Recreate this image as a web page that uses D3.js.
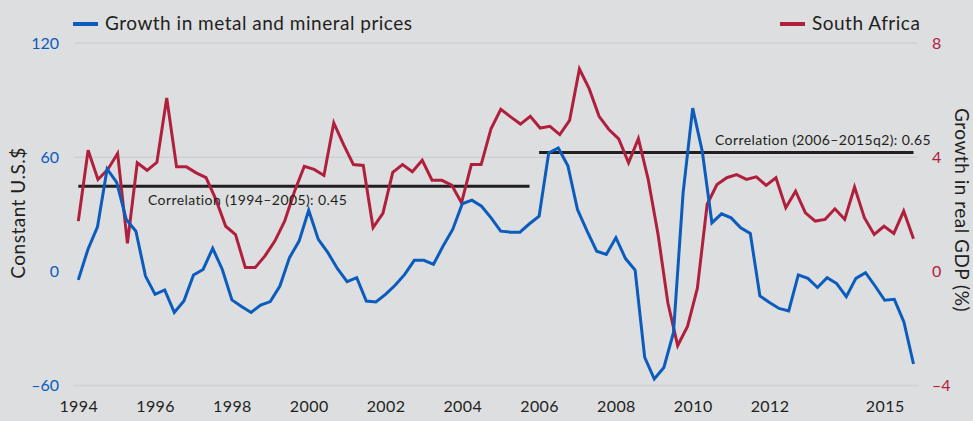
<!DOCTYPE html>
<html>
<head>
<meta charset="utf-8">
<script src="https://cdn.jsdelivr.net/npm/d3@7"></script>
<style>
  body { margin: 0; background: #dddee0; }
  svg { display: block; font-family: Lato, "Open Sans", sans-serif; }
</style>
</head>
<body>
<div id="chart"></div>
<script>
// quarterly, 1994Q1 .. 2015Q4 (constant U.S.$, % growth)
const metalPrices = [
  -4.5, 11.5, 23.4, 53.8, 46.8, 27.2, 21.1, -2.5, -12.1, -9.8,
  -21.6, -15.6, -1.9, 1.0, 12.1, 1.0, -15.0, -18.5, -21.6, -17.7,
  -15.9, -7.7, 7.2, 15.9, 32.1, 16.8, 9.8, 1.4, -5.4, -3.3,
  -15.6, -16.1, -12.1, -7.3, -1.6, 5.8, 5.8, 3.7, 13.3, 22.0,
  35.5, 37.4, 34.2, 28.1, 21.1, 20.6, 20.6, 25.0, 29.0, 62.2,
  64.8, 55.5, 32.5, 21.1, 10.6, 8.9, 17.7, 6.7, 0.7, -45.2,
  -56.6, -50.5, -32.1, 41.2, 85.8, 63.0, 25.5, 30.2, 28.1, 22.9,
  19.9, -12.9, -16.4, -19.5, -20.8, -1.9, -3.7, -8.5, -3.3, -6.4,
  -13.3, -3.7, -0.7, -7.7, -15.2, -14.7, -26.6, -48.7
];

// South Africa real GDP growth (%)
const saGdp = [
  1.76, 4.24, 3.22, 3.57, 4.13, 0.98, 3.80, 3.54, 3.82, 6.07,
  3.66, 3.66, 3.45, 3.28, 2.52, 1.58, 1.29, 0.13, 0.13, 0.54,
  1.06, 1.76, 2.80, 3.68, 3.57, 3.36, 5.20, 4.44, 3.74, 3.71,
  1.53, 2.03, 3.47, 3.74, 3.49, 3.89, 3.19, 3.19, 3.02, 2.40,
  3.74, 3.74, 4.99, 5.68, 5.41, 5.16, 5.43, 5.02, 5.08, 4.79,
  5.29, 7.09, 6.39, 5.43, 4.97, 4.64, 3.80, 4.65, 3.22, 1.30,
  -1.10, -2.60, -1.93, -0.60, 2.35, 3.04, 3.28, 3.39, 3.22, 3.31,
  3.01, 3.28, 2.23, 2.81, 2.05, 1.76, 1.82, 2.19, 1.82, 2.95,
  1.88, 1.29, 1.58, 1.33, 2.11, 1.14
];

const yearTicks = [1994, 1996, 1998, 2000, 2002, 2004, 2006, 2008, 2010, 2012, 2015];
const leftTicks = [-60, 0, 60, 120];
const rightTicks = [-4, 0, 4, 8];
const gridLevels = [-60, 60, 120];

const correlations = [
  { label: "Correlation (1994\u20132005): 0.45", from: 1994, to: 2005.75, level: 44.7 },
  { label: "Correlation (2006\u20132015q2): 0.65", from: 2006, to: 2015.75, level: 62.5 }
];

const width = 973, height = 421;
const blue = "#0b5cbd", red = "#b0203c", ink = "#231f20";

const svg = d3.select("#chart").append("svg")
  .attr("width", width)
  .attr("height", height);

svg.append("rect").attr("width", width).attr("height", height).attr("fill", "#dddee0");

const x = d3.scaleLinear().domain([1994, 2015.75]).range([78.3, 913.5]);
const xRed = d3.scaleLinear().domain([0, saGdp.length - 1]).range([78.3, 913.5]);
const yLeft = d3.scaleLinear().domain([-60, 120]).range([385.5, 43]);
const yRight = d3.scaleLinear().domain([-4, 8]).range([385.5, 43]);

const dash = d => (d < 0 ? "\u2013" + Math.abs(d) : "" + d);

// grid
svg.append("g").selectAll("line")
  .data(gridLevels)
  .join("line")
  .attr("x1", 74).attr("x2", 918)
  .attr("y1", d => yLeft(d)).attr("y2", d => yLeft(d))
  .attr("stroke", "#cfd0d3")
  .attr("stroke-width", 1.5);

// axes
const xAxis = svg.append("g")
  .attr("transform", "translate(0, 398)")
  .call(d3.axisBottom(x).tickValues(yearTicks).tickSize(0).tickFormat(d3.format("d")));
xAxis.select(".domain").remove();
xAxis.selectAll("text").attr("font-size", 16).attr("fill", ink).attr("font-family", "Lato")
  .attr("letter-spacing", 0.4);

const leftAxis = svg.append("g")
  .attr("transform", "translate(62, 0)")
  .call(d3.axisLeft(yLeft).tickValues(leftTicks).tickSize(0).tickFormat(dash));
leftAxis.select(".domain").remove();
leftAxis.selectAll("text").attr("font-size", 16).attr("fill", blue).attr("font-family", "Lato");

const rightAxis = svg.append("g")
  .attr("transform", "translate(929, 0)")
  .call(d3.axisRight(yRight).tickValues(rightTicks).tickSize(0).tickFormat(dash));
rightAxis.select(".domain").remove();
rightAxis.selectAll("text").attr("font-size", 16).attr("fill", red).attr("font-family", "Lato");

svg.append("text")
  .attr("transform", "translate(25, 213) rotate(-90)")
  .attr("text-anchor", "middle")
  .attr("font-size", 19)
  .attr("letter-spacing", 0.5)
  .attr("fill", ink)
  .text("Constant U.S.$");

svg.append("text")
  .attr("transform", "translate(955, 210) rotate(90)")
  .attr("text-anchor", "middle")
  .attr("font-size", 19)
  .attr("letter-spacing", 0.5)
  .attr("fill", ink)
  .text("Growth in real GDP (%)");

// correlation bars
svg.append("g").selectAll("line")
  .data(correlations)
  .join("line")
  .attr("x1", d => x(d.from)).attr("x2", d => x(d.to))
  .attr("y1", d => yLeft(d.level)).attr("y2", d => yLeft(d.level))
  .attr("stroke", ink)
  .attr("stroke-width", 3);

// series
const redLine = d3.line()
  .x((d, i) => xRed(i))
  .y(d => yRight(d));

const blueLine = d3.line()
  .x((d, i) => x(1994 + i / 4))
  .y(d => yLeft(d));

svg.append("path")
  .datum(saGdp)
  .attr("d", redLine)
  .attr("fill", "none")
  .attr("stroke", red)
  .attr("stroke-width", 3)
  .attr("stroke-linejoin", "miter");

svg.append("path")
  .datum(metalPrices)
  .attr("d", blueLine)
  .attr("fill", "none")
  .attr("stroke", blue)
  .attr("stroke-width", 3)
  .attr("stroke-linejoin", "miter");

// correlation labels
svg.append("text")
  .attr("x", 148).attr("y", 205)
  .attr("font-size", 14).attr("letter-spacing", 0.4).attr("fill", ink)
  .text(correlations[0].label);

svg.append("text")
  .attr("x", 715).attr("y", 145)
  .attr("font-size", 14).attr("letter-spacing", 0.4).attr("fill", ink)
  .text(correlations[1].label);

// legend
const legend = [
  { label: "Growth in metal and mineral prices", color: blue, x: 73 },
  { label: "South Africa", color: red, x: 780 }
];
const lg = svg.append("g").selectAll("g")
  .data(legend)
  .join("g")
  .attr("transform", d => `translate(${d.x}, 24)`);
lg.append("line")
  .attr("x1", 0).attr("x2", 25)
  .attr("stroke", d => d.color)
  .attr("stroke-width", 4);
lg.append("text")
  .attr("x", 32).attr("y", 6)
  .attr("font-size", 19)
  .attr("letter-spacing", 0.5)
  .attr("fill", ink)
  .text(d => d.label);
</script>
</body>
</html>
